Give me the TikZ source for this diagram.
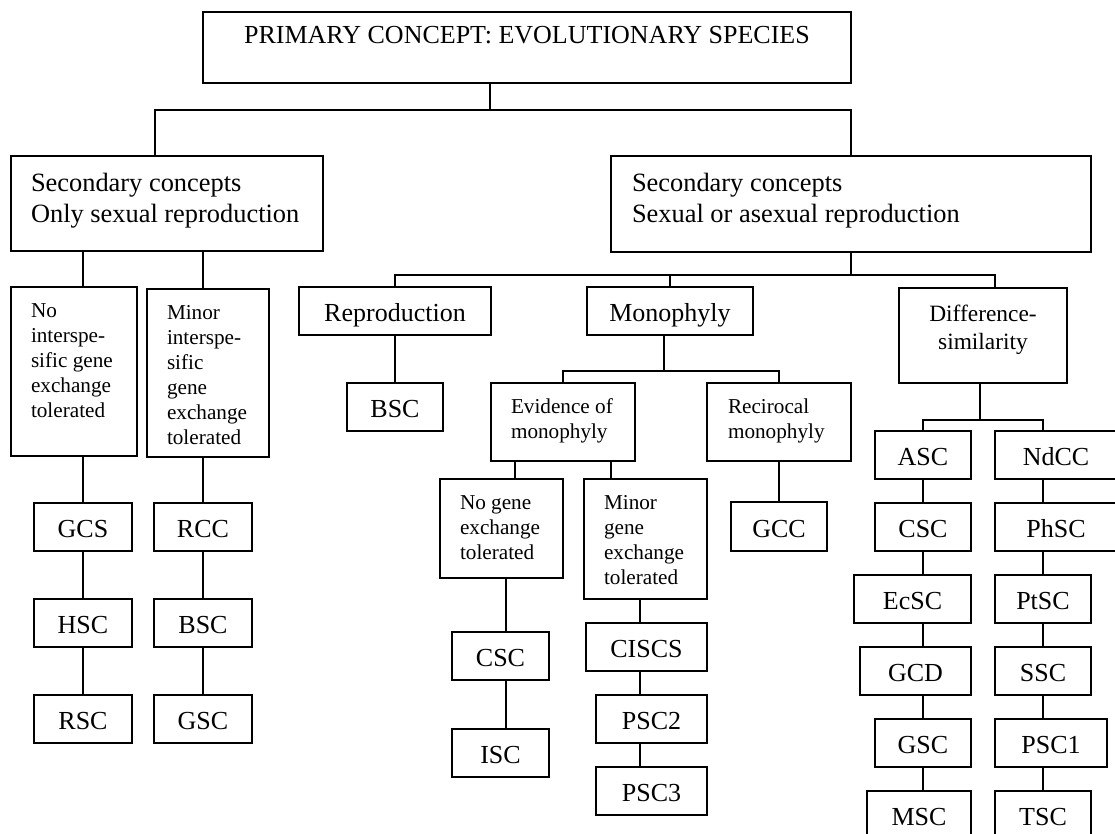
\documentclass[tikz,border=0pt]{standalone}
\usepackage{fontspec}
\setmainfont{Liberation Serif}
\usetikzlibrary{positioning}
\newcommand\sizeBig{\fontsize{26}{31}\selectfont}
\newcommand\sizeSec{\fontsize{26.4}{31}\selectfont}
\newcommand\sizeMid{\fontsize{23.4}{28}\selectfont}
\newcommand\sizeSmall{\fontsize{21.2}{25}\selectfont}

\begin{document}
\begin{tikzpicture}[x=1pt, y=-1pt, line width=1.4pt,
    box/.style={draw, inner sep=0pt, outer sep=0pt, anchor=north west},
    leaf/.style={box, font=\sizeBig, minimum height=48pt, text height=21pt, text depth=0pt},
    tbox/.style={box, font=\sizeSmall, align=flush left, inner xsep=20pt}]
\path[use as bounding box, fill=white] (0,0) rectangle (1115,834);

% primary and secondary concepts
\node[box, font=\sizeBig, minimum width=648pt, text height=32pt, text depth=39pt] (top) at (203,12) {PRIMARY CONCEPT: EVOLUTIONARY SPECIES};
\node[tbox, font=\sizeSec, text width=272pt, text height=36pt, text depth=59pt] (secL) at (11,156) {Secondary~concepts\\Only~sexual~reproduction};
\node[tbox, font=\sizeSec, text width=438pt, inner xsep=21pt, text height=36pt, text depth=60pt] (secR) at (611,156) {Secondary~concepts\\Sexual~or~asexual~reproduction};

% only sexual reproduction
\node[tbox, text width=86pt, text height=30pt, text depth=139pt] (noInter) at (11,287) {No\\interspe-\\sific~gene\\exchange\\tolerated};
\node[tbox, text width=82pt, text height=30pt, text depth=138pt] (minInter) at (147,289) {Minor\\interspe-\\sific\\gene\\exchange\\tolerated};
\node[leaf, minimum width=98pt] (gcs) at (34,503) {GCS};
\node[leaf, minimum width=98pt] (hsc) at (34,599) {HSC};
\node[leaf, minimum width=98pt] (rsc) at (34,695) {RSC};
\node[leaf, minimum width=98pt] (rcc) at (154,503) {RCC};
\node[leaf, minimum width=98pt] (bscL) at (154,599) {BSC};
\node[leaf, minimum width=98pt] (gscL) at (154,695) {GSC};

% sexual or asexual reproduction
\node[leaf, minimum width=192pt] (repro) at (299,287) {Reproduction};
\node[leaf, minimum width=166pt] (mono) at (587,287) {Monophyly};
\node[box, font=\sizeMid, align=center, text width=168pt, text height=33pt, text depth=62pt] (diff) at (899,288) {Difference-\\similarity};
\node[leaf, minimum width=96pt] (bscR) at (347,383) {BSC};

% monophyly
\node[tbox, text width=104pt, text height=30pt, text depth=48pt] (evid) at (491,383) {Evidence~of\\monophyly};
\node[tbox, text width=102pt, inner xsep=21pt, text height=30pt, text depth=48pt] (recip) at (707,383) {Recirocal\\monophyly};
\node[leaf, minimum width=96pt, minimum height=49pt] (gcc) at (731,502) {GCC};
\node[tbox, text width=83pt, text height=30pt, text depth=69pt] (noGene) at (440,479) {No~gene\\exchange\\tolerated};
\node[tbox, text width=83pt, text height=30pt, text depth=90pt] (minGene) at (584,479) {Minor\\gene\\exchange\\tolerated};
\node[leaf, minimum width=97pt] (cscM) at (452,632) {CSC};
\node[leaf, minimum width=97pt] (isc) at (452,729) {ISC};
\node[leaf, minimum width=121pt] (ciscs) at (586,623) {CISCS};
\node[leaf, minimum width=111pt] (pscTwo) at (596,695) {PSC2};
\node[leaf, minimum width=111pt] (pscThree) at (596,767) {PSC3};

% difference-similarity
\node[leaf, minimum width=96pt] (asc) at (875,431) {ASC};
\node[leaf, minimum width=96pt] (cscR) at (875,503) {CSC};
\node[leaf, minimum width=117pt] (ecsc) at (854,575) {EcSC};
\node[leaf, minimum width=111pt] (gcd) at (860,647) {GCD};
\node[leaf, minimum width=96pt] (gscR) at (875,719) {GSC};
\node[leaf, minimum width=104pt] (msc) at (867,791) {MSC};
\node[leaf, minimum width=122pt] (ndcc) at (995,431) {NdCC};
\node[leaf, minimum width=122pt] (phsc) at (995,503) {PhSC};
\node[leaf, minimum width=96pt] (ptsc) at (995,575) {PtSC};
\node[leaf, minimum width=96pt] (ssc) at (995,647) {SSC};
\node[leaf, minimum width=112pt] (pscOne) at (995,719) {PSC1};
\node[leaf, minimum width=96pt] (tsc) at (995,791) {TSC};

% junctions of the connectors
\coordinate (b1) at (155,110);
\coordinate (j1) at (490,110);
\coordinate (j2) at (995,275);
\coordinate (j3) at (664,371);
\coordinate (j4) at (980,420);
\coordinate (e1) at (515,470);
\coordinate (e2) at (611,470);
\coordinate (e3) at (506,600);
\coordinate (e4) at (640,600);

\draw (top.south -| j1) -- (j1);
\draw (secL.north -| b1) |- (j1) -| (secR.north);

\draw (secL.south -| gcs.north) -- (noInter.north -| gcs.north);
\draw (noInter.south -| gcs.north) -- (gcs.north);
\draw (gcs.south) -- (hsc.north);
\draw (hsc.south) -- (rsc.north);
\draw (secL.south -| rcc.north) -- (minInter.north -| rcc.north);
\draw (minInter.south -| rcc.north) -- (rcc.north);
\draw (rcc.south) -- (bscL.north);
\draw (bscL.south) -- (gscL.north);

\draw (secR.south) -- (secR.south |- j2);
\draw (repro.north) |- (j2) -- (diff.north -| j2);
\draw (mono.north) -- (mono.north |- j2);
\draw (repro.south) -- (bscR.north);

\draw (mono.south -| j3) -- (j3);
\draw (evid.north) |- (j3) -| (recip.north);
\draw (recip.south) -- (gcc.north);
\draw (evid.south -| e1) -- (noGene.north -| e1);
\draw (evid.south -| e2) -- (minGene.north -| e2);
\draw (noGene.south -| e3) -- (cscM.north -| e3);
\draw (cscM.south -| e3) -- (isc.north -| e3);
\draw (minGene.south -| e4) -- (ciscs.north -| e4);
\draw (ciscs.south -| e4) -- (pscTwo.north -| e4);
\draw (pscTwo.south -| e4) -- (pscThree.north -| e4);

\draw (diff.south -| j4) -- (j4);
\draw (asc.north) |- (j4) -| (ptsc.north |- ndcc.north);
\foreach \a/\b in {asc/cscR, cscR/ecsc, ecsc/gcd, gcd/gscR, gscR/msc}
  \draw (\a.south -| asc.south) -- (\b.north -| asc.south);
\foreach \a/\b in {ndcc/phsc, phsc/ptsc, ptsc/ssc, ssc/pscOne, pscOne/tsc}
  \draw (\a.south -| ptsc.south) -- (\b.north -| ptsc.south);
\end{tikzpicture}
\end{document}
